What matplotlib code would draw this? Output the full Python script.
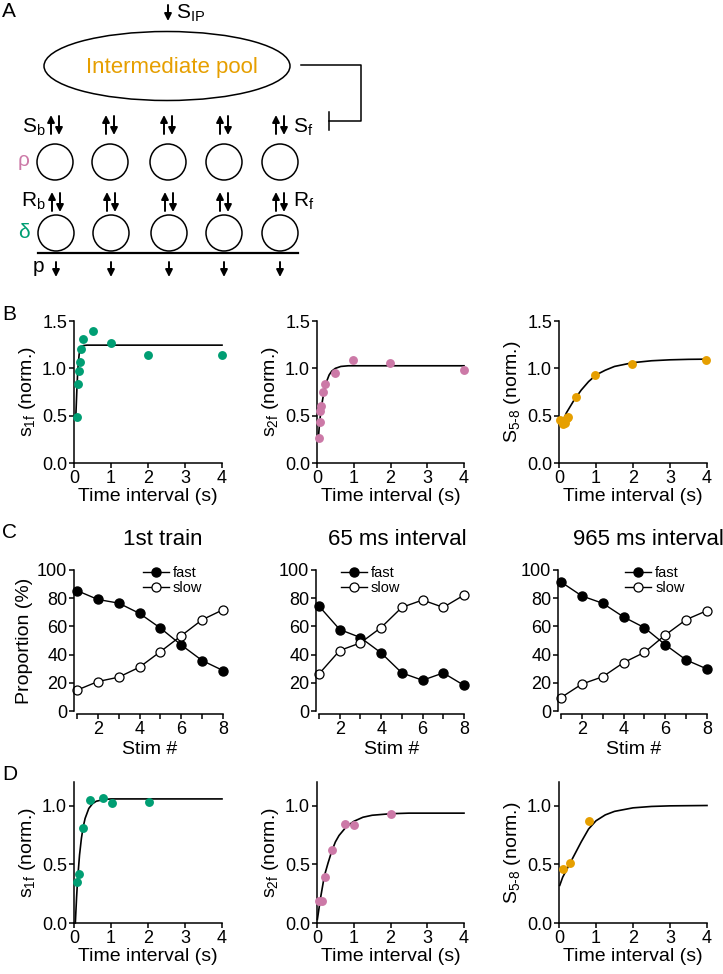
import matplotlib
matplotlib.use("Agg")
import matplotlib.pyplot as plt
from matplotlib.patches import Circle, Ellipse

plt.rcParams['font.family'] = ['Liberation Sans', 'DejaVu Sans']
plt.rcParams['mathtext.fontset'] = 'custom'
plt.rcParams['mathtext.rm'] = 'Liberation Sans'
plt.rcParams['mathtext.it'] = 'Liberation Sans:italic'
plt.rcParams['mathtext.default'] = 'regular'

GREEN = '#009E73'
PINK = '#CC79A7'
ORANGE = '#E69F00'

# ---------------- data ----------------
# Panel B (points)
b1_x = [0.07, 0.10, 0.125, 0.16, 0.19, 0.25, 0.5, 1.0, 2.0, 4.0]
b1_y = [0.49, 0.83, 0.97, 1.07, 1.20, 1.31, 1.39, 1.27, 1.14, 1.14]
b2_x = [0.045, 0.07, 0.09, 0.12, 0.16, 0.23, 0.48, 0.98, 1.98, 3.99]
b2_y = [0.26, 0.43, 0.55, 0.60, 0.745, 0.83, 0.95, 1.085, 1.06, 0.98]
b3_x = [0.03, 0.10, 0.15, 0.22, 0.25, 0.47, 0.98, 1.98, 3.98]
b3_y = [0.45, 0.41, 0.42, 0.48, 0.49, 0.70, 0.925, 1.05, 1.09]
# Panel B (fit curves)
b1_fit_x = [0.05, 0.08, 0.10, 0.12, 0.14, 0.17, 0.20, 0.25, 0.35, 1.0, 4.0]
b1_fit_y = [0.50, 0.80, 0.96, 1.07, 1.15, 1.20, 1.23, 1.24, 1.245, 1.245, 1.245]
b2_fit_x = [0.04, 0.07, 0.10, 0.14, 0.18, 0.22, 0.27, 0.33, 0.40, 0.50, 0.65, 0.85, 4.0]
b2_fit_y = [0.28, 0.42, 0.53, 0.64, 0.73, 0.80, 0.87, 0.93, 0.97, 1.00, 1.02, 1.027, 1.027]
b3_fit_x = [0.05, 0.2, 0.4, 0.6, 0.8, 1.0, 1.25, 1.5, 2.0, 2.5, 3.0, 3.5, 4.0]
b3_fit_y = [0.39, 0.53, 0.66, 0.77, 0.86, 0.93, 0.98, 1.02, 1.06, 1.08, 1.09, 1.095, 1.097]

# Panel C
stim = [1, 2, 3, 4, 5, 6, 7, 8]
c_titles = ['1st train', '65 ms interval', '965 ms interval']
c1_fast = [85.4, 79.1, 76.5, 69.2, 58.8, 46.8, 35.8, 28.7]
c1_slow = [14.8, 20.9, 24.0, 31.1, 42.1, 53.4, 64.7, 71.8]
c2_fast = [74.4, 57.8, 52.1, 41.2, 27.0, 21.8, 27.0, 18.2]
c2_slow = [26.3, 42.9, 48.3, 59.2, 73.5, 78.7, 73.5, 82.2]
c3_fast = [91.5, 81.6, 76.4, 66.7, 59.1, 47.0, 36.2, 29.8]
c3_slow = [9.5, 19.1, 24.3, 34.3, 41.6, 53.9, 64.8, 71.2]

# Panel D (points)
d1_x = [0.07, 0.13, 0.23, 0.42, 0.79, 1.03, 2.02]
d1_y = [0.35, 0.42, 0.81, 1.05, 1.06, 1.02, 1.03]
d2_x = [0.045, 0.136, 0.21, 0.41, 0.755, 1.01, 2.01]
d2_y = [0.19, 0.19, 0.39, 0.62, 0.84, 0.835, 0.93]
d3_x = [0.11, 0.31, 0.80]
d3_y = [0.46, 0.51, 0.87]
# Panel D (fit curves)
d1_fit_x = [0.036, 0.07, 0.10, 0.15, 0.20, 0.25, 0.30, 0.40, 0.50, 0.60, 0.80, 1.0, 4.0]
d1_fit_y = [0.0, 0.22, 0.38, 0.58, 0.72, 0.82, 0.89, 0.975, 1.015, 1.036, 1.051, 1.056, 1.056]
d2_fit_x = [0.01, 0.1, 0.2, 0.3, 0.4, 0.5, 0.6, 0.8, 1.0, 1.25, 1.5, 2.0, 2.5, 4.0]
d2_fit_y = [0.03, 0.22, 0.40, 0.51, 0.61, 0.69, 0.745, 0.82, 0.865, 0.90, 0.917, 0.93, 0.935, 0.935]
d3_fit_x = [0.02, 0.1, 0.2, 0.3, 0.4, 0.5, 0.6, 0.8, 1.0, 1.25, 1.5, 2.0, 2.5, 3.0, 4.0]
d3_fit_y = [0.32, 0.39, 0.45, 0.51, 0.57, 0.63, 0.69, 0.80, 0.87, 0.92, 0.95, 0.98, 0.992, 0.997, 1.0]

W, H = 723, 974
fig = plt.figure(figsize=(W / 100, H / 100), dpi=100)


def pos(l, r, t, b):
    return [l / W, 1 - b / H, (r - l) / W, (b - t) / H]


# overlay axes in pixel coordinates
ov = fig.add_axes([0, 0, 1, 1])
ov.set_xlim(0, W)
ov.set_ylim(H, 0)
ov.axis('off')

TICK = 13
LAB = 14


def style(ax):
    for s in ['top', 'right']:
        ax.spines[s].set_visible(False)
    for s in ['left', 'bottom']:
        ax.spines[s].set_linewidth(1.1)
    ax.tick_params(direction='out', length=3.5, width=1.1, labelsize=TICK, pad=1.5)


def fit_panel(ax, px, py, fx, fy, color, ylabel, ylim, yticks):
    style(ax)
    ax.plot(fx, fy, color='black', lw=1.2, zorder=2, clip_on=False)
    ax.plot(px, py, 'o', color=color, ms=6.4, mec='none', zorder=3, clip_on=False)
    ax.set_xlim(0, 4)
    ax.set_ylim(*ylim)
    ax.set_xticks([0, 1, 2, 3, 4])
    ax.set_yticks(yticks)
    ax.set_yticklabels(['%.1f' % v for v in yticks])
    ax.set_xlabel('Time interval (s)', fontsize=LAB, labelpad=1)
    ax.set_ylabel(ylabel, fontsize=LAB, labelpad=3)


ylabels = ['s$_{1f}$ (norm.)', 's$_{2f}$ (norm.)', r'S$_{5\text{-}8}$ (norm.)']

# ---------- Panel B ----------
bx = [(74, 222), (317, 464), (559, 707)]
bdata = [(b1_x, b1_y, b1_fit_x, b1_fit_y, GREEN),
         (b2_x, b2_y, b2_fit_x, b2_fit_y, PINK),
         (b3_x, b3_y, b3_fit_x, b3_fit_y, ORANGE)]
for (l, r), (px, py, fx, fy, col), yl in zip(bx, bdata, ylabels):
    ax = fig.add_axes(pos(l, r, 321, 463))
    fit_panel(ax, px, py, fx, fy, col, yl, (0, 1.5), [0.0, 0.5, 1.0, 1.5])

# ---------- Panel C ----------
cx = [(77, 223), (319, 464), (561, 707)]
cdata = [(c1_fast, c1_slow), (c2_fast, c2_slow), (c3_fast, c3_slow)]
leg_x = [0.45, 0.15, 0.44]
title_x = [163, 397, 648]
for i, ((l, r), (fast, slow)) in enumerate(zip(cx, cdata)):
    ax = fig.add_axes(pos(l, r, 570, 711))
    style(ax)
    ax.spines['left'].set_position(('outward', 2))
    ax.spines['bottom'].set_position(('outward', 2))
    h1, = ax.plot(stim, fast, '-o', color='black', lw=1.0, ms=6.5, mfc='black',
                  mec='black', clip_on=False, label='fast')
    h2, = ax.plot(stim, slow, '-o', color='black', lw=1.0, ms=6.5, mfc='white',
                  mec='black', mew=0.9, clip_on=False, label='slow')
    ax.set_xlim(1, 8)
    ax.set_ylim(0, 100)
    ax.set_xticks(stim)
    ax.set_xticklabels([str(s) if s % 2 == 0 else '' for s in stim])
    ax.set_yticks([0, 20, 40, 60, 80, 100])
    ax.set_xlabel('Stim #', fontsize=LAB, labelpad=2)
    if i == 0:
        ax.set_ylabel('Proportion (%)', fontsize=LAB, labelpad=3)
    ax.legend(handles=[h1, h2], frameon=False, loc='upper left',
              bbox_to_anchor=(leg_x[i], 1.03), fontsize=10.5, handlelength=1.8,
              handletextpad=0.25, labelspacing=0.1, borderpad=0, borderaxespad=0)
    ov.text(title_x[i], 545, c_titles[i], fontsize=16, ha='center', va='baseline')

# ---------- Panel D ----------
ddata = [(d1_x, d1_y, d1_fit_x, d1_fit_y, GREEN),
         (d2_x, d2_y, d2_fit_x, d2_fit_y, PINK),
         (d3_x, d3_y, d3_fit_x, d3_fit_y, ORANGE)]
for (l, r), (px, py, fx, fy, col), yl in zip(bx, ddata, ylabels):
    ax = fig.add_axes(pos(l, r, 782, 923))
    fit_panel(ax, px, py, fx, fy, col, yl, (0, 1.2), [0.0, 0.5, 1.0])

# ---------- Panel letters ----------
for letter, y in [('A', 17), ('B', 320), ('C', 538), ('D', 780)]:
    ov.text(2, y, letter, fontsize=15, ha='left', va='baseline')


# ---------- Panel A diagram ----------
def arrow(x, y_from, y_to):
    ov.annotate('', xy=(x, y_to), xytext=(x, y_from),
                arrowprops=dict(arrowstyle='-|>', lw=1.4, color='black',
                                mutation_scale=10.5, shrinkA=0, shrinkB=0))


arrow(168, 5, 21)
ov.text(176, 19, 'S$_{IP}$', fontsize=15, ha='left', va='baseline')
ov.add_patch(Ellipse((167, 66), 246, 69, fill=False, lw=1.1, ec='black'))
ov.text(172, 67, 'Intermediate pool', fontsize=16, color=ORANGE, ha='center', va='center')
# inhibitory connector
ov.plot([301, 361, 361, 329], [65, 65, 121, 121], color='black', lw=1.1)
ov.plot([329, 329], [112, 130], color='black', lw=1.1)

row1_x = [55, 110, 168, 224, 280]
row2_x = [56, 111, 169, 224, 280]
for x in row1_x:
    arrow(x - 4, 134, 115)
    arrow(x + 4, 116, 135)
for x in row2_x:
    arrow(x - 4, 211, 192)
    arrow(x + 4, 193, 212)
    arrow(x, 262, 277)
ov.text(46, 133, 'S$_b$', fontsize=15, ha='right', va='baseline')
ov.text(293, 133, 'S$_f$', fontsize=15, ha='left', va='baseline')
ov.text(46, 207, 'R$_b$', fontsize=15, ha='right', va='baseline')
ov.text(293, 207, 'R$_f$', fontsize=15, ha='left', va='baseline')
ov.text(24, 161, '\u03c1', fontsize=15, color=PINK, ha='center', va='center')
ov.text(24, 233, '\u03b4', fontsize=15, color=GREEN, ha='center', va='center')
ov.text(38, 272, 'p', fontsize=15, ha='center', va='baseline')
for x in row1_x:
    ov.add_patch(Circle((x, 162), 18, fill=False, lw=1.1, ec='black'))
for x in row2_x:
    ov.add_patch(Circle((x, 233), 18, fill=False, lw=1.1, ec='black'))
ov.plot([38, 298], [253, 253], color='black', lw=1.6)

fig.savefig('out.png', dpi=100)
